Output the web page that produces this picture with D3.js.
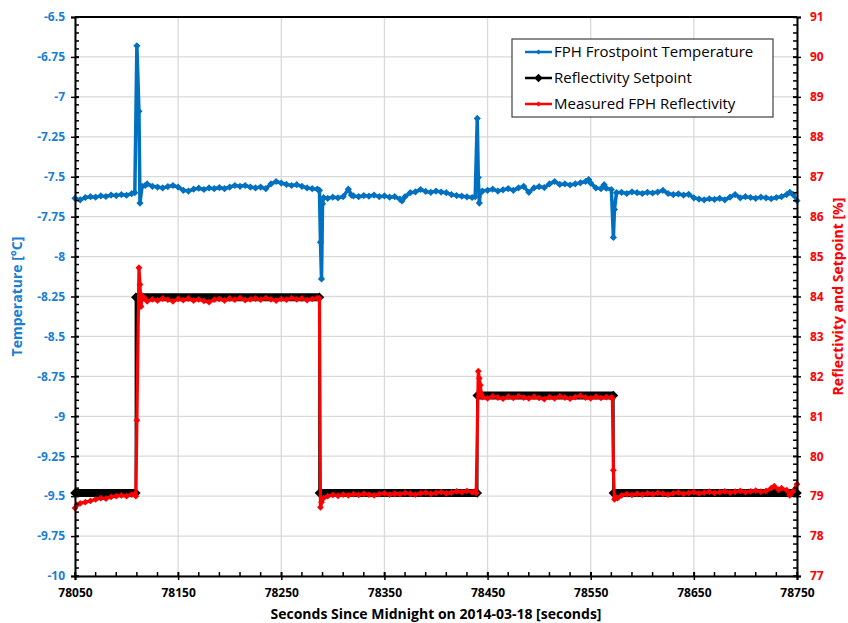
<!DOCTYPE html>
<html lang="en">
<head>
  <meta charset="UTF-8">
  <title>FPH frostpoint and reflectivity</title>
  <script src="https://cdn.jsdelivr.net/npm/d3@7"></script>
  <style>
    body { margin: 0; background: #fff; }
    text { font-family: "Open Sans", sans-serif; }
  </style>
</head>
<body>
  <svg width="848" height="623"></svg>
  <script>
    // tick values
    var xTicks = [78050, 78150, 78250, 78350, 78450, 78550, 78650, 78750];
    var tempTicks = [-10, -9.75, -9.5, -9.25, -9, -8.75, -8.5, -8.25, -8, -7.75, -7.5, -7.25, -7, -6.75, -6.5];
    var reflTicks = [77, 78, 79, 80, 81, 82, 83, 84, 85, 86, 87, 88, 89, 90, 91];

    // FPH frostpoint temperature [time, degC]
    var fphTemperature = [
      [78050,-7.635],[78055,-7.645],[78060,-7.630],[78065,-7.625],[78070,-7.628],[78075,-7.620],
      [78080,-7.624],[78085,-7.615],[78090,-7.618],[78095,-7.612],[78100,-7.616],[78105,-7.606],
      [78108,-7.600],[78110,-6.680],[78112,-7.090],[78113,-7.665],[78115,-7.560],[78118,-7.555],
      [78120,-7.545],[78125,-7.560],[78130,-7.565],[78135,-7.570],[78140,-7.562],[78145,-7.555],
      [78150,-7.565],[78155,-7.585],[78160,-7.590],[78165,-7.578],[78170,-7.572],[78175,-7.580],
      [78180,-7.570],[78185,-7.575],[78190,-7.568],[78195,-7.575],[78200,-7.565],[78205,-7.555],
      [78210,-7.560],[78215,-7.555],[78220,-7.565],[78225,-7.570],[78230,-7.565],[78235,-7.575],
      [78240,-7.545],[78245,-7.530],[78250,-7.540],[78255,-7.548],[78260,-7.555],[78265,-7.550],
      [78270,-7.560],[78275,-7.570],[78280,-7.575],[78285,-7.578],[78287,-7.585],[78288,-7.910],
      [78289,-8.140],[78290,-7.670],[78291,-7.630],[78295,-7.635],[78300,-7.628],[78305,-7.632],
      [78310,-7.625],[78315,-7.578],[78318,-7.615],[78320,-7.620],[78325,-7.625],[78330,-7.618],
      [78335,-7.622],[78340,-7.615],[78345,-7.625],[78350,-7.620],[78355,-7.628],[78360,-7.625],
      [78365,-7.640],[78367,-7.652],[78370,-7.625],[78375,-7.600],[78380,-7.595],[78385,-7.580],
      [78390,-7.592],[78395,-7.598],[78400,-7.590],[78405,-7.596],[78410,-7.600],[78415,-7.612],
      [78420,-7.618],[78425,-7.622],[78430,-7.626],[78435,-7.630],[78438,-7.625],[78440,-7.135],
      [78441,-7.505],[78442,-7.665],[78443,-7.600],[78445,-7.590],[78450,-7.585],[78455,-7.578],
      [78460,-7.590],[78465,-7.582],[78470,-7.575],[78475,-7.585],[78480,-7.570],[78485,-7.560],
      [78490,-7.598],[78495,-7.570],[78500,-7.562],[78505,-7.568],[78510,-7.545],[78515,-7.530],
      [78520,-7.548],[78525,-7.545],[78530,-7.552],[78535,-7.545],[78540,-7.538],[78545,-7.530],
      [78548,-7.518],[78550,-7.540],[78555,-7.570],[78560,-7.575],[78563,-7.550],[78565,-7.572],
      [78570,-7.580],[78572,-7.880],[78573,-7.705],[78575,-7.600],[78580,-7.598],[78585,-7.605],
      [78590,-7.595],[78595,-7.600],[78600,-7.605],[78605,-7.598],[78610,-7.602],[78615,-7.596],
      [78620,-7.585],[78625,-7.605],[78630,-7.612],[78635,-7.608],[78640,-7.615],[78645,-7.610],
      [78650,-7.632],[78655,-7.640],[78660,-7.645],[78665,-7.638],[78670,-7.642],[78675,-7.635],
      [78680,-7.645],[78685,-7.628],[78690,-7.612],[78695,-7.632],[78700,-7.625],[78705,-7.630],
      [78710,-7.635],[78715,-7.628],[78720,-7.632],[78725,-7.638],[78730,-7.630],[78735,-7.625],
      [78740,-7.612],[78743,-7.598],[78746,-7.610],[78750,-7.650]
    ];

    // reflectivity setpoint, as constant steps
    var setpointStart = [78050, 78109, 78287, 78440, 78572];
    var setpointEnd   = [78109, 78287, 78440, 78572, 78750];
    var setpointValue = [79.08, 83.98, 79.08, 81.52, 79.08];

    // measured FPH reflectivity [time, %]
    var measuredRefl = [
      [78050,78.70],[78052,78.78],[78055,78.82],[78060,78.85],[78065,78.88],[78070,78.92],
      [78075,78.95],[78080,78.94],[78085,78.98],[78090,79.00],[78095,79.02],[78100,79.00],
      [78105,79.04],[78108,79.05],[78109,79.00],[78110,80.90],[78112,84.72],[78113,84.30],
      [78114,83.75],[78115,84.02],[78118,83.95],[78120,83.88],[78125,83.93],[78130,83.90],
      [78135,83.95],[78140,83.92],[78145,83.88],[78150,83.94],[78155,83.91],[78160,83.95],
      [78165,83.90],[78170,83.93],[78175,83.89],[78180,83.86],[78185,83.92],[78190,83.94],
      [78195,83.90],[78200,83.95],[78205,83.92],[78210,83.96],[78215,83.91],[78220,83.93],
      [78225,83.95],[78230,83.92],[78235,83.96],[78240,83.93],[78245,83.90],[78250,83.94],
      [78255,83.92],[78260,83.96],[78265,83.93],[78270,83.95],[78275,83.91],[78280,83.94],
      [78285,83.96],[78287,83.95],[78288,78.72],[78289,78.85],[78291,78.95],[78295,79.00],
      [78300,79.03],[78305,79.01],[78310,79.04],[78315,79.02],[78320,79.05],[78325,79.03],
      [78330,79.06],[78335,79.04],[78340,79.02],[78345,79.05],[78350,79.07],[78355,79.04],
      [78360,79.06],[78365,79.05],[78370,79.08],[78375,79.06],[78380,79.04],[78385,79.07],
      [78390,79.09],[78395,79.06],[78400,79.08],[78405,79.10],[78410,79.07],[78415,79.09],
      [78420,79.12],[78425,79.10],[78430,79.13],[78435,79.10],[78438,79.12],[78439,79.08],
      [78441,82.13],[78442,81.95],[78443,81.78],[78444,81.55],[78445,81.48],[78450,81.45],
      [78455,81.50],[78460,81.47],[78465,81.44],[78470,81.49],[78475,81.46],[78480,81.50],
      [78485,81.47],[78490,81.45],[78495,81.49],[78500,81.46],[78505,81.43],[78510,81.48],
      [78515,81.45],[78520,81.50],[78525,81.47],[78530,81.44],[78535,81.48],[78540,81.51],
      [78545,81.47],[78550,81.45],[78555,81.49],[78560,81.46],[78565,81.48],[78570,81.47],
      [78571,81.45],[78572,79.65],[78573,78.92],[78574,78.98],[78576,78.95],[78580,79.02],
      [78585,79.05],[78590,79.03],[78595,79.06],[78600,79.04],[78605,79.07],[78610,79.05],
      [78615,79.08],[78620,79.06],[78625,79.04],[78630,79.07],[78635,79.09],[78640,79.06],
      [78645,79.08],[78650,79.10],[78655,79.07],[78660,79.09],[78665,79.11],[78670,79.08],
      [78675,79.10],[78680,79.12],[78685,79.09],[78690,79.11],[78695,79.13],[78700,79.10],
      [78705,79.12],[78710,79.14],[78715,79.11],[78720,79.13],[78725,79.20],[78728,79.25],
      [78732,79.16],[78735,79.20],[78740,79.15],[78743,79.02],[78746,79.12],[78750,79.30]
    ];

    var blue = '#0070c0';
    var red = '#ff0000';

    var svg = d3.select('svg');
    var plot = {left: 75, right: 797, top: 17, bottom: 576};

    var x = d3.scaleLinear().domain([78050, 78750]).range([plot.left, plot.right]);
    var yTemp = d3.scaleLinear().domain([-10, -6.5]).range([plot.bottom, plot.top]);
    var yRefl = d3.scaleLinear().domain([77, 91]).range([plot.bottom, plot.top]);

    function diamond(r) {
      return 'M0,' + (-r) + 'L' + r + ',0L0,' + r + 'L' + (-r) + ',0Z';
    }

    // gridlines
    var grid = svg.append('g').attr('stroke', '#d9d9d9').attr('stroke-width', 1.3);
    grid.selectAll('.gx').data(xTicks).enter().append('line')
      .attr('x1', function(d) { return x(d); }).attr('x2', function(d) { return x(d); })
      .attr('y1', plot.top).attr('y2', plot.bottom);
    grid.selectAll('.gy').data(tempTicks).enter().append('line')
      .attr('y1', function(d) { return yTemp(d); }).attr('y2', function(d) { return yTemp(d); })
      .attr('x1', plot.left).attr('x2', plot.right);

    // temperature series
    var tempLine = d3.line()
      .x(function(d) { return x(d[0]); })
      .y(function(d) { return yTemp(d[1]); });
    svg.append('path').datum(fphTemperature)
      .attr('d', tempLine).attr('fill', 'none').attr('stroke', blue)
      .attr('stroke-width', 3.5).attr('stroke-linejoin', 'round');
    svg.append('g').selectAll('path').data(fphTemperature).enter().append('path')
      .attr('d', diamond(3.6)).attr('fill', blue)
      .attr('transform', function(d) { return 'translate(' + x(d[0]) + ',' + yTemp(d[1]) + ')'; });

    // setpoint steps
    var sp = svg.append('g');
    var steps = setpointValue.map(function(v, i) {
      return {start: setpointStart[i], end: setpointEnd[i], value: v};
    });
    steps.forEach(function(s, i) {
      if (i > 0) {
        sp.append('line')
          .attr('x1', x(s.start)).attr('x2', x(s.start))
          .attr('y1', yRefl(steps[i - 1].value)).attr('y2', yRefl(s.value))
          .attr('stroke', '#000').attr('stroke-width', 2.5);
      }
      sp.append('line')
        .attr('x1', x(s.start)).attr('x2', x(s.end))
        .attr('y1', yRefl(s.value)).attr('y2', yRefl(s.value))
        .attr('stroke', '#000').attr('stroke-width', 8);
      [s.start, s.end].forEach(function(t) {
        sp.append('path').attr('d', diamond(4.8)).attr('fill', '#000')
          .attr('transform', 'translate(' + x(t) + ',' + yRefl(s.value) + ')');
      });
    });

    // measured reflectivity
    var reflLine = d3.line()
      .x(function(d) { return x(d[0]); })
      .y(function(d) { return yRefl(d[1]); });
    svg.append('path').datum(measuredRefl)
      .attr('d', reflLine).attr('fill', 'none').attr('stroke', red)
      .attr('stroke-width', 3.2).attr('stroke-linejoin', 'round');
    svg.append('g').selectAll('path').data(measuredRefl).enter().append('path')
      .attr('d', diamond(3.4)).attr('fill', red)
      .attr('transform', function(d) { return 'translate(' + x(d[0]) + ',' + yRefl(d[1]) + ')'; });

    // axes
    var fmt = function(d) { return String(d); };
    var xAxis = svg.append('g')
      .attr('transform', 'translate(0,' + plot.bottom + ')')
      .call(d3.axisBottom(x).tickValues(xTicks).tickSize(4).tickPadding(8).tickFormat(fmt));
    var xMinor = d3.range(78050, 78751, 20);
    xAxis.selectAll('.minor').data(xMinor).enter().append('line')
      .attr('x1', function(d) { return x(d); }).attr('x2', function(d) { return x(d); })
      .attr('y1', 0).attr('y2', -4).attr('stroke', '#000').attr('stroke-width', 1.5);
    xAxis.selectAll('.tick line').attr('y1', -4).attr('y2', 4);

    var leftAxis = svg.append('g')
      .attr('transform', 'translate(' + plot.left + ',0)')
      .call(d3.axisLeft(yTemp).tickValues(tempTicks).tickSize(4).tickPadding(6).tickFormat(fmt));
    leftAxis.selectAll('.minor').data(d3.range(-10, -6.49, 0.05)).enter().append('line')
      .attr('y1', function(d) { return yTemp(d); }).attr('y2', function(d) { return yTemp(d); })
      .attr('x1', 0).attr('x2', 4).attr('stroke', '#000').attr('stroke-width', 1.5);
    leftAxis.selectAll('.tick line').attr('x1', 4).attr('x2', -4);

    var rightAxis = svg.append('g')
      .attr('transform', 'translate(' + plot.right + ',0)')
      .call(d3.axisRight(yRefl).tickValues(reflTicks).tickSize(4).tickPadding(9).tickFormat(fmt));
    rightAxis.selectAll('.minor').data(d3.range(77, 91.01, 0.2)).enter().append('line')
      .attr('y1', function(d) { return yRefl(d); }).attr('y2', function(d) { return yRefl(d); })
      .attr('x1', 0).attr('x2', -4).attr('stroke', '#000').attr('stroke-width', 1.5);
    rightAxis.selectAll('.tick line').attr('x1', -4).attr('x2', 4);

    [xAxis, leftAxis, rightAxis].forEach(function(a) {
      a.select('.domain').attr('stroke', '#000').attr('stroke-width', 2);
      a.selectAll('.tick line').attr('stroke', '#000').attr('stroke-width', 1.5);
      a.selectAll('text').style('font-family', '"Open Sans", sans-serif')
        .style('font-size', '12px').style('font-weight', 'bold');
    });
    xAxis.selectAll('text').attr('fill', '#000');
    leftAxis.selectAll('text').attr('fill', '#1a7fd4');
    rightAxis.selectAll('text').attr('fill', red);

    svg.append('line').attr('x1', plot.left).attr('x2', plot.right)
      .attr('y1', plot.top).attr('y2', plot.top).attr('stroke', '#000').attr('stroke-width', 2);

    // axis titles
    svg.append('text')
      .attr('x', 436).attr('y', 619)
      .attr('text-anchor', 'middle').style('font-size', '14px').style('font-weight', 'bold')
      .text('Seconds Since Midnight on 2014-03-18 [seconds]');
    svg.append('text')
      .attr('transform', 'translate(22,' + (plot.top + plot.bottom) / 2 + ') rotate(-90)')
      .attr('text-anchor', 'middle').attr('fill', '#1a7fd4')
      .style('font-size', '14px').style('font-weight', 'bold')
      .text('Temperature [°C]');
    svg.append('text')
      .attr('transform', 'translate(843,' + (plot.top + plot.bottom) / 2 + ') rotate(-90)')
      .attr('text-anchor', 'middle').attr('fill', red)
      .style('font-size', '14px').style('font-weight', 'bold')
      .text('Reflectivity and Setpoint [%]');

    // legend
    var legendNames = ['FPH Frostpoint Temperature', 'Reflectivity Setpoint', 'Measured FPH Reflectivity'];
    var legendColors = [blue, '#000', red];
    var legendSizes = [2.6, 4.2, 2.6];
    var legend = svg.append('g').attr('transform', 'translate(512,39)');
    legend.append('rect').attr('width', 261).attr('height', 78)
      .attr('fill', '#fff').attr('stroke', '#404040').attr('stroke-width', 1.2);
    legendNames.forEach(function(name, i) {
      var row = legend.append('g').attr('transform', 'translate(0,' + (13 + i * 26) + ')');
      row.append('line').attr('x1', 13).attr('x2', 40).attr('stroke', legendColors[i]).attr('stroke-width', 2.5);
      row.append('path').attr('d', diamond(legendSizes[i])).attr('fill', legendColors[i])
        .attr('transform', 'translate(26.5,0)');
      row.append('text').attr('x', 42).attr('y', 5).style('font-size', '15px').text(name);
    });
  </script>
</body>
</html>
